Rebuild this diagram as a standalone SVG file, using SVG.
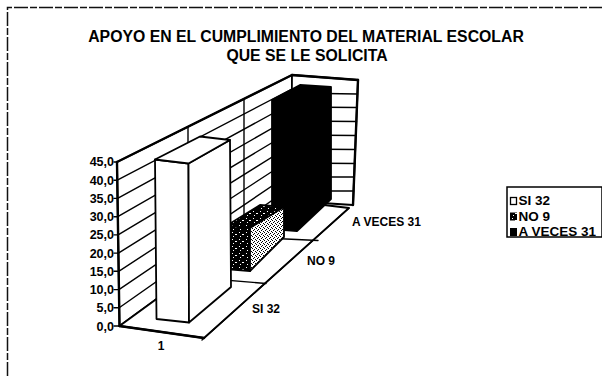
<svg xmlns="http://www.w3.org/2000/svg" width="602" height="376" viewBox="0 0 602 376">
<style>
.ttl{font-family:"Liberation Sans",Arial,sans-serif;font-weight:bold;font-size:15.8px;fill:#000;text-anchor:middle}
.lbl{font-family:"Liberation Sans",Arial,sans-serif;font-weight:bold;font-size:12px;fill:#000}
.yl{font-family:"Liberation Sans",Arial,sans-serif;font-weight:bold;font-size:12.5px;fill:#000;text-anchor:end}
.lg{font-family:"Liberation Sans",Arial,sans-serif;font-weight:bold;font-size:13.5px;fill:#000}
.ln{stroke:#000;stroke-width:1.4;fill:none;stroke-linecap:round}
.thk{stroke:#000;stroke-width:2.4;fill:none;stroke-linecap:round}
.face{stroke:#000;stroke-width:1.8;stroke-linejoin:round}
.border{stroke:#111;stroke-width:1.5;fill:none;stroke-dasharray:14 2 7 2}
</style>
<defs>
<pattern id="spkD" width="7" height="7" patternUnits="userSpaceOnUse">
<rect width="7" height="7" fill="#000"/>
<rect x="1" y="1" width="1" height="1" fill="#fff"/>
<rect x="4" y="3" width="2" height="1" fill="#fff"/>
<rect x="2" y="5" width="1" height="1" fill="#fff"/>
</pattern>
<pattern id="spkL" width="4" height="4" patternUnits="userSpaceOnUse">
<rect width="4" height="4" fill="#fff"/>
<rect x="0" y="0" width="1" height="1" fill="#000"/>
<rect x="2" y="1" width="1" height="1" fill="#000"/>
<rect x="1" y="2" width="1" height="1" fill="#000"/>
<rect x="3" y="3" width="1" height="1" fill="#000"/>
</pattern>
</defs>
<rect width="602" height="376" fill="#fff"/>
<g id="frame">
<path class="border" d="M7.5 376 V7.5 H602"/>
</g>
<g id="title">
<text class="ttl" x="306" y="41.5">APOYO EN EL CUMPLIMIENTO DEL MATERIAL ESCOLAR</text>
<text class="ttl" x="307" y="61">QUE SE LE SOLICITA</text>
</g>
<g id="walls">
<polygon class="face" fill="#fff" points="119.5,326 117,162 292,75 291,201"/>
<polygon class="face" fill="#fff" points="292,75 358,80 353,205 291,201"/>
<g class="ln">
<line x1="119.2" y1="307.8" x2="291.1" y2="187"/>
<line x1="118.9" y1="289.6" x2="291.2" y2="173"/>
<line x1="118.7" y1="271.3" x2="291.3" y2="159"/>
<line x1="118.4" y1="253.1" x2="291.4" y2="145"/>
<line x1="118.1" y1="234.9" x2="291.6" y2="131"/>
<line x1="117.8" y1="216.7" x2="291.7" y2="117"/>
<line x1="117.6" y1="198.4" x2="291.8" y2="103"/>
<line x1="117.3" y1="180.2" x2="291.9" y2="89"/>
<line x1="188" y1="127" x2="188" y2="277"/>
<line x1="244" y1="99" x2="244" y2="237"/>
<line x1="291" y1="191" x2="353.7" y2="191"/>
<line x1="291.1" y1="177" x2="354.3" y2="177"/>
<line x1="291.2" y1="163" x2="354.8" y2="163.5"/>
<line x1="291.3" y1="149" x2="355.4" y2="149.5"/>
<line x1="291.4" y1="135" x2="355.9" y2="135.5"/>
<line x1="291.5" y1="121" x2="356.5" y2="121.5"/>
<line x1="291.7" y1="107" x2="357" y2="107.5"/>
<line x1="291.8" y1="93" x2="357.5" y2="94"/>
</g>
<line class="thk" x1="117" y1="162" x2="292" y2="75"/>
<line class="thk" x1="292" y1="75" x2="358" y2="80"/>
<line class="thk" x1="358" y1="80" x2="353" y2="205"/>
<line class="thk" x1="119.5" y1="326" x2="117" y2="162"/>
</g>
<g id="floor">
<polygon class="face" fill="#fff" points="119.5,326 204,338 349,208 291,201"/>
<line class="ln" x1="188" y1="277" x2="266" y2="283.5"/>
<line class="ln" x1="244" y1="237" x2="318" y2="240.5"/>
</g>
<g id="bar-aveces">
<polygon class="face" fill="#000" points="272,100 300,85 331,87 331,199 297,231 272,229"/>
</g>
<g id="bar-no">
<polygon class="face" fill="url(#spkD)" points="226,226 250,228 284,207 260,205"/>
<polygon class="face" fill="url(#spkD)" points="226,226 250,228 250,271 226,269"/>
<polygon class="face" fill="url(#spkL)" points="250,228 284,207 284,237 250,271"/>
</g>
<g id="bar-si">
<polygon class="face" fill="#fff" points="155,159.5 188.5,163.5 189,322.5 156.5,319"/>
<polygon class="face" fill="#fff" points="188.5,163.5 230,140 231,287 189,322.5"/>
<polygon class="face" fill="#fff" points="155,159.5 188.5,163.5 230,140 200,136.5"/>
</g>
<g id="axes">
<line class="thk" x1="119.5" y1="326" x2="204" y2="338"/>
<line class="ln" x1="202" y1="340" x2="349" y2="208"/>
<g class="ln">
<line x1="114" y1="326" x2="119.5" y2="326"/>
<line x1="114" y1="307.8" x2="119.2" y2="307.8"/>
<line x1="114" y1="289.6" x2="118.9" y2="289.6"/>
<line x1="114" y1="271.3" x2="118.7" y2="271.3"/>
<line x1="114" y1="253.1" x2="118.4" y2="253.1"/>
<line x1="114" y1="234.9" x2="118.1" y2="234.9"/>
<line x1="114" y1="216.7" x2="117.8" y2="216.7"/>
<line x1="114" y1="198.4" x2="117.6" y2="198.4"/>
<line x1="114" y1="180.2" x2="117.3" y2="180.2"/>
<line x1="114" y1="162" x2="117" y2="162"/>
</g>
<text class="yl" x="114" y="330.5">0,0</text>
<text class="yl" x="114" y="312.3">5,0</text>
<text class="yl" x="114" y="294">10,0</text>
<text class="yl" x="114" y="275.8">15,0</text>
<text class="yl" x="114" y="257.5">20,0</text>
<text class="yl" x="114" y="239.3">25,0</text>
<text class="yl" x="114" y="221">30,0</text>
<text class="yl" x="114" y="202.8">35,0</text>
<text class="yl" x="114" y="184.6">40,0</text>
<text class="yl" x="114" y="166.4">45,0</text>
<text class="lbl" x="161" y="349.5" text-anchor="middle">1</text>
<text class="lbl" x="252" y="312.5">SI 32</text>
<text class="lbl" x="307" y="265">NO 9</text>
<text class="lbl" x="352" y="226">A VECES 31</text>
</g>
<g id="legend">
<rect x="507" y="187" width="95" height="50" fill="#fff" stroke="#000" stroke-width="1.5"/>
<rect x="510.5" y="197.5" width="6" height="7" fill="#fff" stroke="#000" stroke-width="1.3"/>
<rect x="510" y="212.5" width="7" height="8" fill="url(#spkD)"/>
<rect x="510" y="228" width="7" height="8" fill="#000"/>
<text class="lg" x="518.5" y="205">SI 32</text>
<text class="lg" x="518.5" y="220.5">NO 9</text>
<text class="lg" x="518.5" y="235.5">A VECES 31</text>
</g>
</svg>
